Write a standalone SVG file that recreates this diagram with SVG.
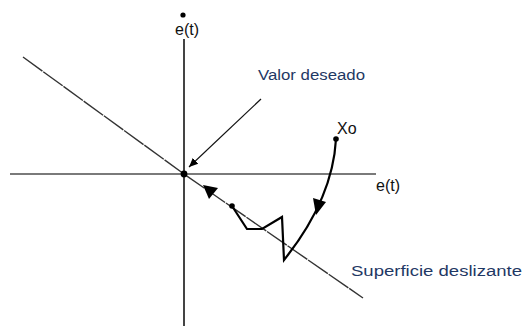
<svg xmlns="http://www.w3.org/2000/svg" width="524" height="326" viewBox="0 0 524 326">
<style>
.lbl{font-family:"Liberation Sans",Arial,sans-serif;font-size:16px;fill:#111}
.note{font-family:"Liberation Sans",Arial,sans-serif;font-size:15.5px;fill:#1f3864}
.axis{stroke-width:2;fill:none}
.traj{stroke:#000;stroke-width:2.2;fill:none;stroke-linejoin:miter}
</style>
<defs>
<marker id="ah" markerWidth="10" markerHeight="10" refX="9" refY="5" orient="auto" markerUnits="userSpaceOnUse">
<path d="M0,1 L9,5 L0,9 Z" fill="#000"/>
</marker>
</defs>
<rect width="524" height="326" fill="#fff"/>
<g id="axes">
<line class="axis" x1="184" y1="39" x2="184" y2="326" stroke="#444"/>
<line class="axis" x1="10" y1="174" x2="376" y2="174" stroke="#7a7a7a"/>
<circle cx="183" cy="15" r="2.6" fill="#000"/>
<text class="lbl" x="175" y="35">e(t)</text>
<text class="lbl" x="376" y="191">e(t)</text>
</g>
<g id="surface">
<polyline points="23,57 184,174 363,298" fill="none" stroke="#333" stroke-width="1.4" stroke-dasharray="24 1"/>
<text class="note" x="351" y="276" textLength="171" lengthAdjust="spacingAndGlyphs">Superficie deslizante</text>
</g>
<g id="origin">
<circle cx="184" cy="174" r="3.4" fill="#000"/>
</g>
<g id="valor">
<text class="note" x="258" y="80" textLength="107" lengthAdjust="spacingAndGlyphs">Valor deseado</text>
</g>
<g id="x0">
<circle cx="336" cy="139" r="2.8" fill="#000"/>
<text class="lbl" x="337" y="134">Xo</text>
</g>
<g id="connectors">
<line x1="261" y1="99" x2="189" y2="167" stroke="#111" stroke-width="1.2" marker-end="url(#ah)"/>
<path class="traj" d="M336,139 C334,175 320,215 284,260 L282,217 L262,229 L247,229 L232,206"/>
<circle cx="232" cy="206" r="2.8" fill="#000"/>
<path d="M316,215 L313,198 L326,202 Z" fill="#000"/>
<path d="M203,185 L218,188 L209,199 Z" fill="#000"/>
</g>
</svg>
